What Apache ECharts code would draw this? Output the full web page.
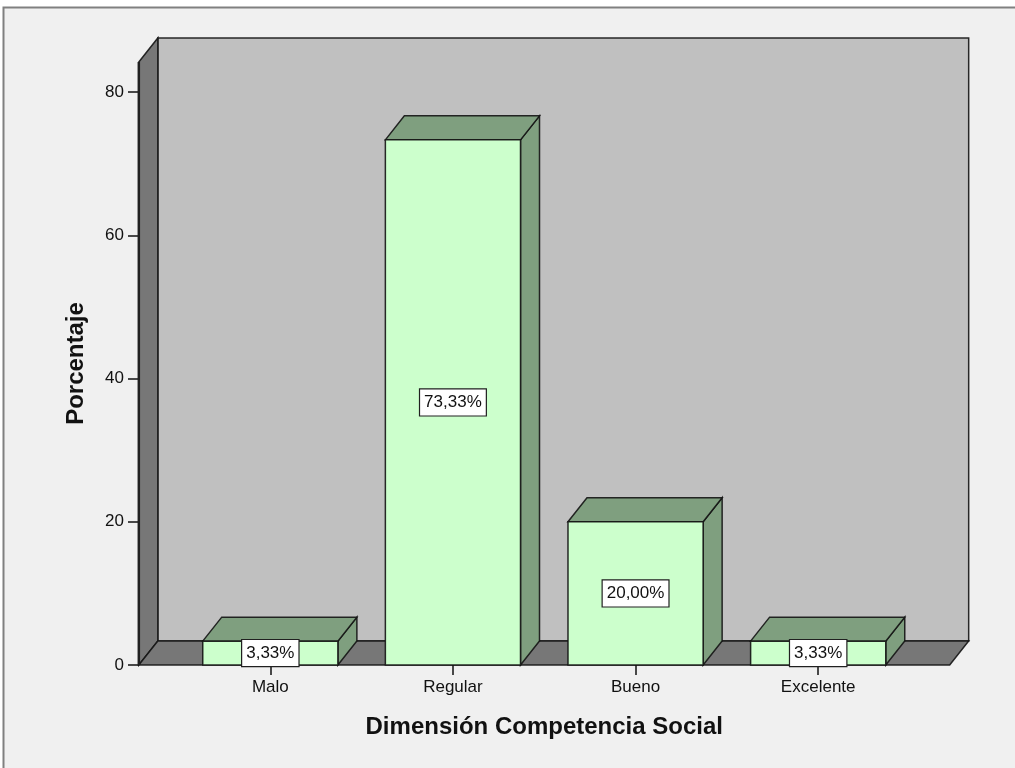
<!DOCTYPE html>
<html>
<head>
<meta charset="utf-8">
<script src="https://cdn.jsdelivr.net/npm/echarts@6/dist/echarts.min.js"></script>
<style>
  html, body { margin: 0; padding: 0; background: #ffffff; }
  #chart { width: 1015px; height: 768px; }
</style>
</head>
<body>
<div id="chart"></div>
<script>
// Dimensión Competencia Social: percentage per level
const categories = ['Malo', 'Regular', 'Bueno', 'Excelente'];
const percentages = [3.33, 73.33, 20.00, 3.33];
const yTicks = [0, 20, 40, 60, 80];

// 3D projection of the box (pixels)
const DEPTH_X = 19;
const DEPTH_Y = -24;
const EDGE = 'rgba(20,20,20,0.9)';
const FONT = '"Liberation Sans", Arial, sans-serif';

const chart = echarts.init(document.getElementById('chart'));

function fmt(v) {
  return v.toFixed(2).replace('.', ',') + '%';
}

// floor, left wall and back wall of the 3D frame
function renderFrame(params, api) {
  const band = api.size([1, 0])[0];
  const pad = 0.72 * band;
  const x0 = api.coord([0, 0])[0] - pad;
  const x1 = api.coord([categories.length - 1, 0])[0] + pad;
  const yb = api.coord([0, 0])[1];
  const yt = api.coord([0, 84.2])[1];
  const dx = DEPTH_X, dy = DEPTH_Y;
  const children = [
    { type: 'polygon', shape: { points: [[x0 + dx, yt + dy], [x1 + dx, yt + dy], [x1 + dx, yb + dy], [x0 + dx, yb + dy]] },
      style: { fill: '#c0c0c0', stroke: EDGE, lineWidth: 1.5 } },
    { type: 'polygon', shape: { points: [[x0, yt], [x0 + dx, yt + dy], [x0 + dx, yb + dy], [x0, yb]] },
      style: { fill: '#777777', stroke: EDGE, lineWidth: 1.5 } },
    { type: 'polygon', shape: { points: [[x0, yb], [x0 + dx, yb + dy], [x1 + dx, yb + dy], [x1, yb]] },
      style: { fill: '#777777', stroke: EDGE, lineWidth: 1.5 } },
    // front vertical edge carrying the value scale
    { type: 'line', shape: { x1: x0, y1: yt, x2: x0, y2: yb },
      style: { stroke: '#202020', lineWidth: 2.5 } }
  ];
  return { type: 'group', children: children };
}

// 3D bar: front face, top and right side
function renderBar(params, api) {
  const idx = api.value(0);
  const val = api.value(1);
  const band = api.size([1, 0])[0];
  const w = band * 0.74;
  const c = api.coord([idx, val]);
  const b = api.coord([idx, 0]);
  const xl = c[0] - w / 2, xr = c[0] + w / 2;
  const yt = c[1], yb = b[1];
  const dx = DEPTH_X, dy = DEPTH_Y;
  return {
    type: 'group',
    children: [
      { type: 'polygon', shape: { points: [[xr, yb], [xr + dx, yb + dy], [xr + dx, yt + dy], [xr, yt]] },
        style: { fill: '#7f9f7f', stroke: EDGE, lineWidth: 1.5 } },
      { type: 'polygon', shape: { points: [[xl, yt], [xl + dx, yt + dy], [xr + dx, yt + dy], [xr, yt]] },
        style: { fill: '#7f9f7f', stroke: EDGE, lineWidth: 1.5 } },
      { type: 'rect', shape: { x: xl, y: yt, width: w, height: yb - yt },
        style: { fill: '#ccffcc', stroke: EDGE, lineWidth: 1.5 } },
      { type: 'text', z2: 10, x: c[0], y: (yt + yb) / 2,
        style: { text: fmt(val), fill: '#111', font: '17px ' + FONT, align: 'center', verticalAlign: 'middle',
                 backgroundColor: '#ffffff', borderColor: '#202020', borderWidth: 1.2, padding: [5, 4, 4, 4] } }
    ]
  };
}

chart.setOption({
  backgroundColor: '#ffffff',
  animation: false,
  graphic: [{
    type: 'rect', z: -10, silent: true,
    shape: { x: 3.5, y: 7.5, width: 1015, height: 765 },
    style: { fill: '#f0f0f0', stroke: '#808080', lineWidth: 2 }
  }],
  grid: { left: 179, right: 105.5, top: 62, bottom: 103 },
  xAxis: {
    type: 'category',
    data: categories,
    name: 'Dimensión Competencia Social',
    nameLocation: 'middle',
    nameGap: 50,
    nameTextStyle: { fontFamily: FONT, fontSize: 24, fontWeight: 'bold', color: '#111' },
    axisLine: { show: false },
    axisTick: { show: true, alignWithLabel: true, length: 10, lineStyle: { color: '#111', width: 1.5 } },
    axisLabel: { fontFamily: FONT, fontSize: 17, color: '#111', margin: 14 },
    splitLine: { show: false }
  },
  yAxis: {
    type: 'value',
    min: 0,
    max: 84.2,
    interval: 20,
    offset: 40,
    name: 'Porcentaje',
    nameLocation: 'middle',
    nameGap: 51,
    nameTextStyle: { fontFamily: FONT, fontSize: 24, fontWeight: 'bold', color: '#111' },
    axisLine: { show: false },
    axisTick: { show: true, length: 11, customValues: yTicks, lineStyle: { color: '#111', width: 1.5 } },
    axisLabel: { fontFamily: FONT, fontSize: 17, color: '#111', margin: 15, customValues: yTicks },
    splitLine: { show: false }
  },
  series: [
    {
      type: 'custom',
      z: 1,
      renderItem: renderFrame,
      data: [[0, 0]],
      silent: true
    },
    {
      type: 'custom',
      z: 2,
      renderItem: renderBar,
      data: percentages.map((v, i) => [i, v]),
      silent: true
    }
  ]
});
</script>
</body>
</html>
